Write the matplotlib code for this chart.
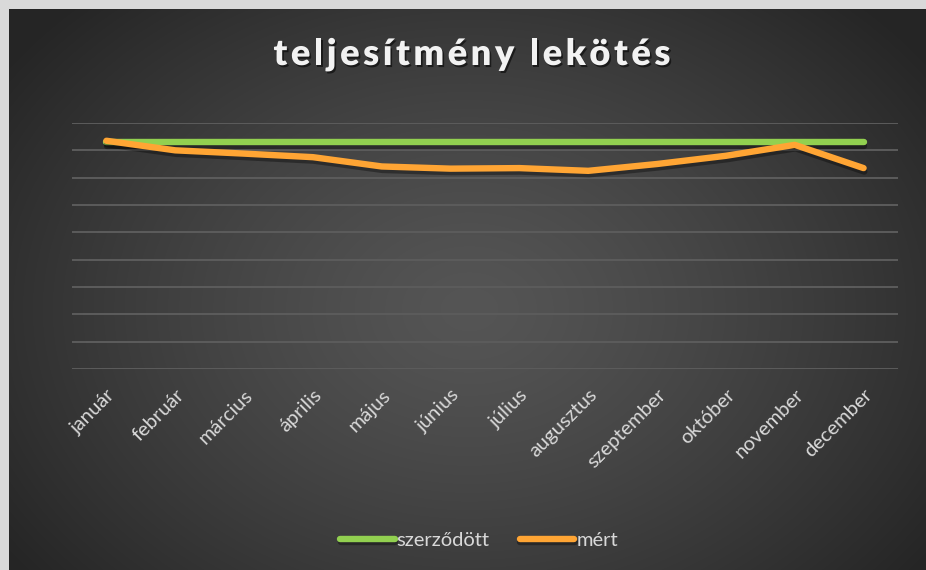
import numpy as np
import matplotlib
matplotlib.use("Agg")
import matplotlib.pyplot as plt
import matplotlib.patheffects as pe
from matplotlib.font_manager import FontProperties

# ---------------- data ----------------
months = ["január", "február", "március", "április", "május", "június",
          "július", "augusztus", "szeptember", "október", "november", "december"]
szerzodott = [829] * 12
mert = [835, 800, 788, 775, 741, 733, 735, 725, 750, 780, 820, 735]
title = "teljesítmény lekötés"
legend_labels = ["szerződött", "mért"]

W, H = 926, 570
DPI = 100
fig = plt.figure(figsize=(W / DPI, H / DPI), dpi=DPI, facecolor="#d9d9d9")

# ---------------- background (radial gradient) ----------------
bg = fig.add_axes([9 / W, 0, (W - 9) / W, (H - 9) / H])
bg.set_axis_off()
yy, xx = np.mgrid[0:561, 0:917]
cx, cy = 460, 300
d = np.sqrt(((xx - cx) / 560.0) ** 2 + ((yy - cy) / 420.0) ** 2)
d = np.clip(d, 0, 1)
c0, c1 = 0x55, 0x26
val = (c0 + (c1 - c0) * d ** 1.3) / 255.0
img = np.dstack([val, val, val])
bg.imshow(img, aspect="auto", extent=[0, 1, 0, 1], origin="upper")
bg.set_xlim(0, 1)
bg.set_ylim(0, 1)

# ---------------- main axes ----------------
left, right, top, bottom = 72, 898, 123, 369
ax = fig.add_axes([left / W, 1 - bottom / H, (right - left) / W, (bottom - top) / H])
ax.patch.set_alpha(0)
x = np.arange(len(months))
shadow = [pe.SimpleLineShadow(offset=(0.5, -2.5), shadow_color="black", alpha=0.35), pe.Normal()]
ax.plot(x, szerzodott, color="#92d050", lw=4.6, solid_capstyle="round",
        solid_joinstyle="round", label=legend_labels[0], path_effects=shadow, zorder=3)
ax.plot(x, mert, color="#ffa534", lw=4.6, solid_capstyle="round",
        solid_joinstyle="round", label=legend_labels[1], path_effects=shadow, zorder=4)
ax.set_xlim(-0.5, len(months) - 0.5)
ax.set_ylim(0, 900)
ax.set_yticks(np.arange(0, 901, 100))
ax.yaxis.grid(True, color="#5c5c5c", lw=1.4)
ax.set_axisbelow(True)
for s in ax.spines.values():
    s.set_visible(False)
ax.tick_params(axis="y", left=False, labelleft=False)
ax.tick_params(axis="x", bottom=False, pad=9)
ax.set_xticks(x)
ax.set_xticklabels(months, rotation=45, ha="right", rotation_mode="anchor",
                   fontsize=14.5, color="#d9d9d9", fontfamily="Lato")

# ---------------- legend ----------------
leg = fig.legend(loc="center", bbox_to_anchor=(479 / W, 1 - 540 / H), ncol=2,
                 frameon=False, handlelength=2.7, handletextpad=0.1,
                 columnspacing=1.5, prop=FontProperties(family="Lato", size=14.5))
for t in leg.get_texts():
    t.set_color("#d9d9d9")
for h in leg.get_lines():
    h.set_linewidth(4.6)
    h.set_solid_capstyle("round")

# ---------------- title with letter spacing ----------------
fp = FontProperties(family="Lato", weight="heavy", size=26)
renderer = fig.canvas.get_renderer()
widths = [renderer.get_text_width_height_descent(ch, fp, ismath=False)[0] for ch in title]
target = 397.0
spacing = (target - sum(widths)) / (len(title) - 1)
xpos = 472 - target / 2
ybase = H - 65
for ch, w in zip(title, widths):
    t = fig.text(xpos / W, ybase / H, ch, fontproperties=fp, color="#f2f2f2",
                 ha="left", va="baseline")
    t.set_path_effects([pe.withSimplePatchShadow(offset=(1.2, -1.5), shadow_rgbFace="black", alpha=0.55)])
    xpos += w + spacing

fig.savefig("out.png", dpi=DPI, facecolor=fig.get_facecolor())
